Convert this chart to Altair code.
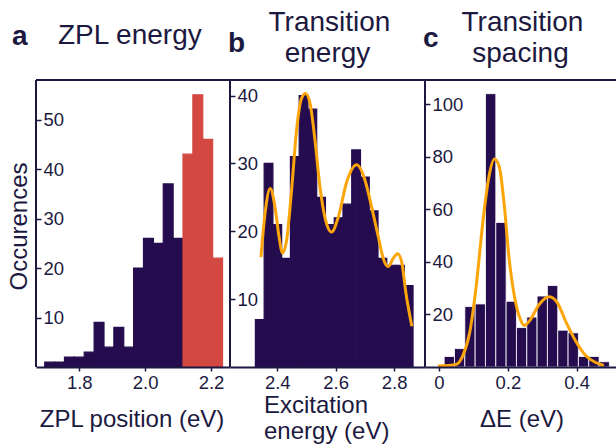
import altair as alt
import pandas as pd

NAVY = "#250c4e"
RED = "#d44842"
ORANGE = "#fca50a"
INK = "#1c1940"
FONT = "Liberation Sans"

# ---------------- data ----------------
# panel a : ZPL energy
a_edges = [1.695, 1.725, 1.755, 1.785, 1.815, 1.845, 1.875, 1.905, 1.935, 1.965,
           1.995, 2.025, 2.055, 2.085, 2.115, 2.145, 2.175, 2.205, 2.235]
a_counts = [1, 1, 2, 2, 3, 9, 4, 8, 4, 20, 26, 25, 37, 26, 43, 55, 46, 22]
a_group = ["other"] * 14 + ["selected"] * 4
a_xticks = [1.8, 2.0, 2.2]
a_yticks = [10, 20, 30, 40, 50]
a_xdomain = [1.6685, 2.2577]
a_ydomain = [0, 58]

# panel b : transition energy
b_edges = [2.325, 2.355, 2.385, 2.415, 2.445, 2.475, 2.505, 2.535, 2.565, 2.595,
           2.625, 2.655, 2.685, 2.715, 2.745, 2.775, 2.805, 2.835, 2.865]
b_counts = [7, 30, 21, 16, 31, 40, 38, 25, 21, 22, 24, 32, 28, 23, 16, 15, 15, 12]
b_fit_x = [2.344, 2.358, 2.376, 2.392, 2.406, 2.418, 2.432, 2.449, 2.466, 2.483,
           2.497, 2.512, 2.529, 2.546, 2.563, 2.586, 2.609, 2.638, 2.672, 2.700,
           2.723, 2.746, 2.763, 2.780, 2.797, 2.812, 2.826, 2.841, 2.861]
b_fit_y = [16.2, 22.6, 26.3, 23.6, 19.2, 16.8, 18.7, 26.1, 34.9, 39.6,
           40.3, 38.9, 33.5, 26.6, 22.1, 19.9, 22.1, 27.3, 29.8, 27.6,
           23.6, 19.2, 16.0, 14.8, 16.0, 16.7, 15.5, 10.8, 6.0]
b_xticks = [2.4, 2.6, 2.8]
b_yticks = [10, 20, 30, 40]
b_xdomain = [2.238, 2.906]
b_ydomain = [0, 42.3]

# panel c : transition spacing
c_edges = [0.015, 0.045, 0.075, 0.105, 0.135, 0.165, 0.195, 0.225, 0.255,
           0.285, 0.315, 0.345, 0.375, 0.405, 0.435, 0.465, 0.495]
c_counts = [4, 7, 23, 24, 104, 55, 25, 15, 19, 27, 31, 14, 13, 4, 4, 2]
c_fit_x = [-0.003, 0.050, 0.069, 0.089, 0.108, 0.127, 0.145, 0.161, 0.175, 0.190,
           0.204, 0.219, 0.233, 0.248, 0.262, 0.291, 0.320, 0.344, 0.368, 0.397,
           0.426, 0.455, 0.479]
c_fit_y = [0.4, 1.0, 4.2, 13.0, 30.7, 54.7, 72.4, 79.1, 76.2, 61.0,
           40.8, 26.9, 19.3, 15.8, 17.4, 23.8, 26.7, 24.4, 17.4, 9.9,
           4.4, 1.7, 0.6]
c_xticks = [0, 0.2, 0.4]
c_yticks = [20, 40, 60, 80, 100]
c_xdomain = [-0.0407, 0.5142]
c_ydomain = [0, 109.2]

W, H = 580, 287
PA, PB, PC = [0, 194], [194, 389], [389, 580]

df_a = pd.DataFrame({"x0": a_edges[:-1], "x1": a_edges[1:], "count": a_counts, "group": a_group})
df_b = pd.DataFrame({"x0": b_edges[:-1], "x1": b_edges[1:], "count": b_counts})
fit_b = pd.DataFrame({"x0": b_fit_x, "count": b_fit_y})
df_c = pd.DataFrame({"x0": c_edges[:-1], "x1": c_edges[1:], "count": c_counts})
fit_c = pd.DataFrame({"x0": c_fit_x, "count": c_fit_y})
one = pd.DataFrame({"k": [0]})


def xaxis(values, expr):
    return alt.Axis(orient="bottom", values=values, labelExpr=expr, title=None, grid=False,
                    domain=True, domainColor=INK, domainWidth=2, ticks=True, tickSize=4,
                    tickWidth=1.5, tickColor=INK, labelFont=FONT, labelFontSize=18.5,
                    labelColor=INK, labelPadding=2, labelFlush=False, labelOverlap=False,
                    zindex=1)


def yaxis(values, offset):
    return alt.Axis(orient="left", values=values, title=None, grid=False, domain=False,
                    offset=offset, tickSize=5, tickWidth=1.5, tickColor=INK,
                    labelAlign="left", labelBaseline="middle", labelPadding=-7,
                    labelFont=FONT, labelFontSize=18.5, labelColor=INK,
                    labelFlush=False, labelOverlap=False, zindex=1)


fmt1 = "format(datum.value, '.1f')"
fmt0 = "datum.value == 0 ? '0' : format(datum.value, '.1f')"

xs_a = alt.Scale(domain=a_xdomain, range=PA, nice=False, zero=False)
ys_a = alt.Scale(domain=a_ydomain, nice=False, zero=False)
xs_b = alt.Scale(domain=b_xdomain, range=PB, nice=False, zero=False)
ys_b = alt.Scale(domain=b_ydomain, nice=False, zero=False)
xs_c = alt.Scale(domain=c_xdomain, range=PC, nice=False, zero=False)
ys_c = alt.Scale(domain=c_ydomain, nice=False, zero=False)

grp_scale = alt.Scale(domain=["other", "selected"], range=[NAVY, RED])

bars_a = alt.Chart(df_a).mark_rect(strokeWidth=1.2).encode(
    x=alt.X("x0:Q", scale=xs_a, axis=xaxis(a_xticks, fmt1)),
    x2="x1",
    y=alt.Y("count:Q", scale=ys_a, axis=yaxis(a_yticks, -5)),
    y2=alt.datum(0),
    color=alt.Color("group:N", scale=grp_scale, legend=None),
    stroke=alt.Stroke("group:N", scale=grp_scale, legend=None),
)

bars_b = alt.Chart(df_b).mark_rect(color=NAVY, stroke=NAVY, strokeWidth=1.2).encode(
    x=alt.X("x0:Q", scale=xs_b, axis=xaxis(b_xticks, fmt1)),
    x2="x1",
    y=alt.Y("count:Q", scale=ys_b, axis=yaxis(b_yticks, -199)),
    y2=alt.datum(0),
)
line_b = alt.Chart(fit_b).mark_line(color=ORANGE, strokeWidth=3, interpolate="monotone").encode(
    x=alt.X("x0:Q", scale=xs_b, axis=xaxis(b_xticks, fmt1)),
    y=alt.Y("count:Q", scale=ys_b, axis=yaxis(b_yticks, -199)),
)

bars_c = alt.Chart(df_c).mark_rect(color=NAVY, stroke="white", strokeWidth=0.8).encode(
    x=alt.X("x0:Q", scale=xs_c, axis=xaxis(c_xticks, fmt0)),
    x2="x1",
    y=alt.Y("count:Q", scale=ys_c, axis=yaxis(c_yticks, -394)),
    y2=alt.datum(0),
)
line_c = alt.Chart(fit_c).mark_line(color=ORANGE, strokeWidth=3, interpolate="monotone").encode(
    x=alt.X("x0:Q", scale=xs_c, axis=xaxis(c_xticks, fmt0)),
    y=alt.Y("count:Q", scale=ys_c, axis=yaxis(c_yticks, -394)),
)


def vrule(x):
    return alt.Chart(one).mark_rule(color=INK, strokeWidth=2).encode(
        x=alt.value(x), y=alt.value(0), y2=alt.value(H))


top_rule = alt.Chart(one).mark_rule(color=INK, strokeWidth=2).encode(
    x=alt.value(0), x2=alt.value(W), y=alt.value(0))


def label(text, x, y, size=28, bold=False, align="left", angle=0):
    kw = dict(text=text, fontSize=size, font=FONT, fontWeight="bold" if bold else "normal",
              align=align, baseline="alphabetic", color=INK)
    if angle:
        kw["angle"] = angle
    return alt.Chart(one).mark_text(**kw).encode(x=alt.value(x), y=alt.value(y))


texts = [
    label("a", -24, -35, bold=True),
    label("ZPL energy", 22, -36),
    label("b", 192, -28, bold=True),
    label("Transition", 293.5, -49, align="center"),
    label("energy", 291.5, -18, align="center"),
    label("c", 387, -33, bold=True),
    label("Transition", 486.5, -49, align="center"),
    label("spacing", 484.5, -18, align="center"),
    label("ZPL position (eV)", 96, 347, size=24, align="center"),
    label("Excitation", 228, 333, size=24),
    label("energy (eV)", 228, 359, size=24),
    label("ΔE (eV)", 486, 347, size=24, align="center"),
    label("Occurences", -9, 146.5, size=24, align="center", angle=270),
]

chart = alt.layer(
    bars_a,
    alt.layer(bars_b, line_b),
    alt.layer(bars_c, line_c),
    top_rule, vrule(0), vrule(194), vrule(389),
    *texts,
).resolve_scale(x="independent", y="independent").properties(
    width=W, height=H,
    padding={"left": 36, "top": 80, "right": 0, "bottom": 77},
    autosize=alt.AutoSizeParams(type="none"),
    background="white",
).configure_view(stroke=None)

chart.save("out.html", embed_options={"renderer": "svg", "actions": False})
